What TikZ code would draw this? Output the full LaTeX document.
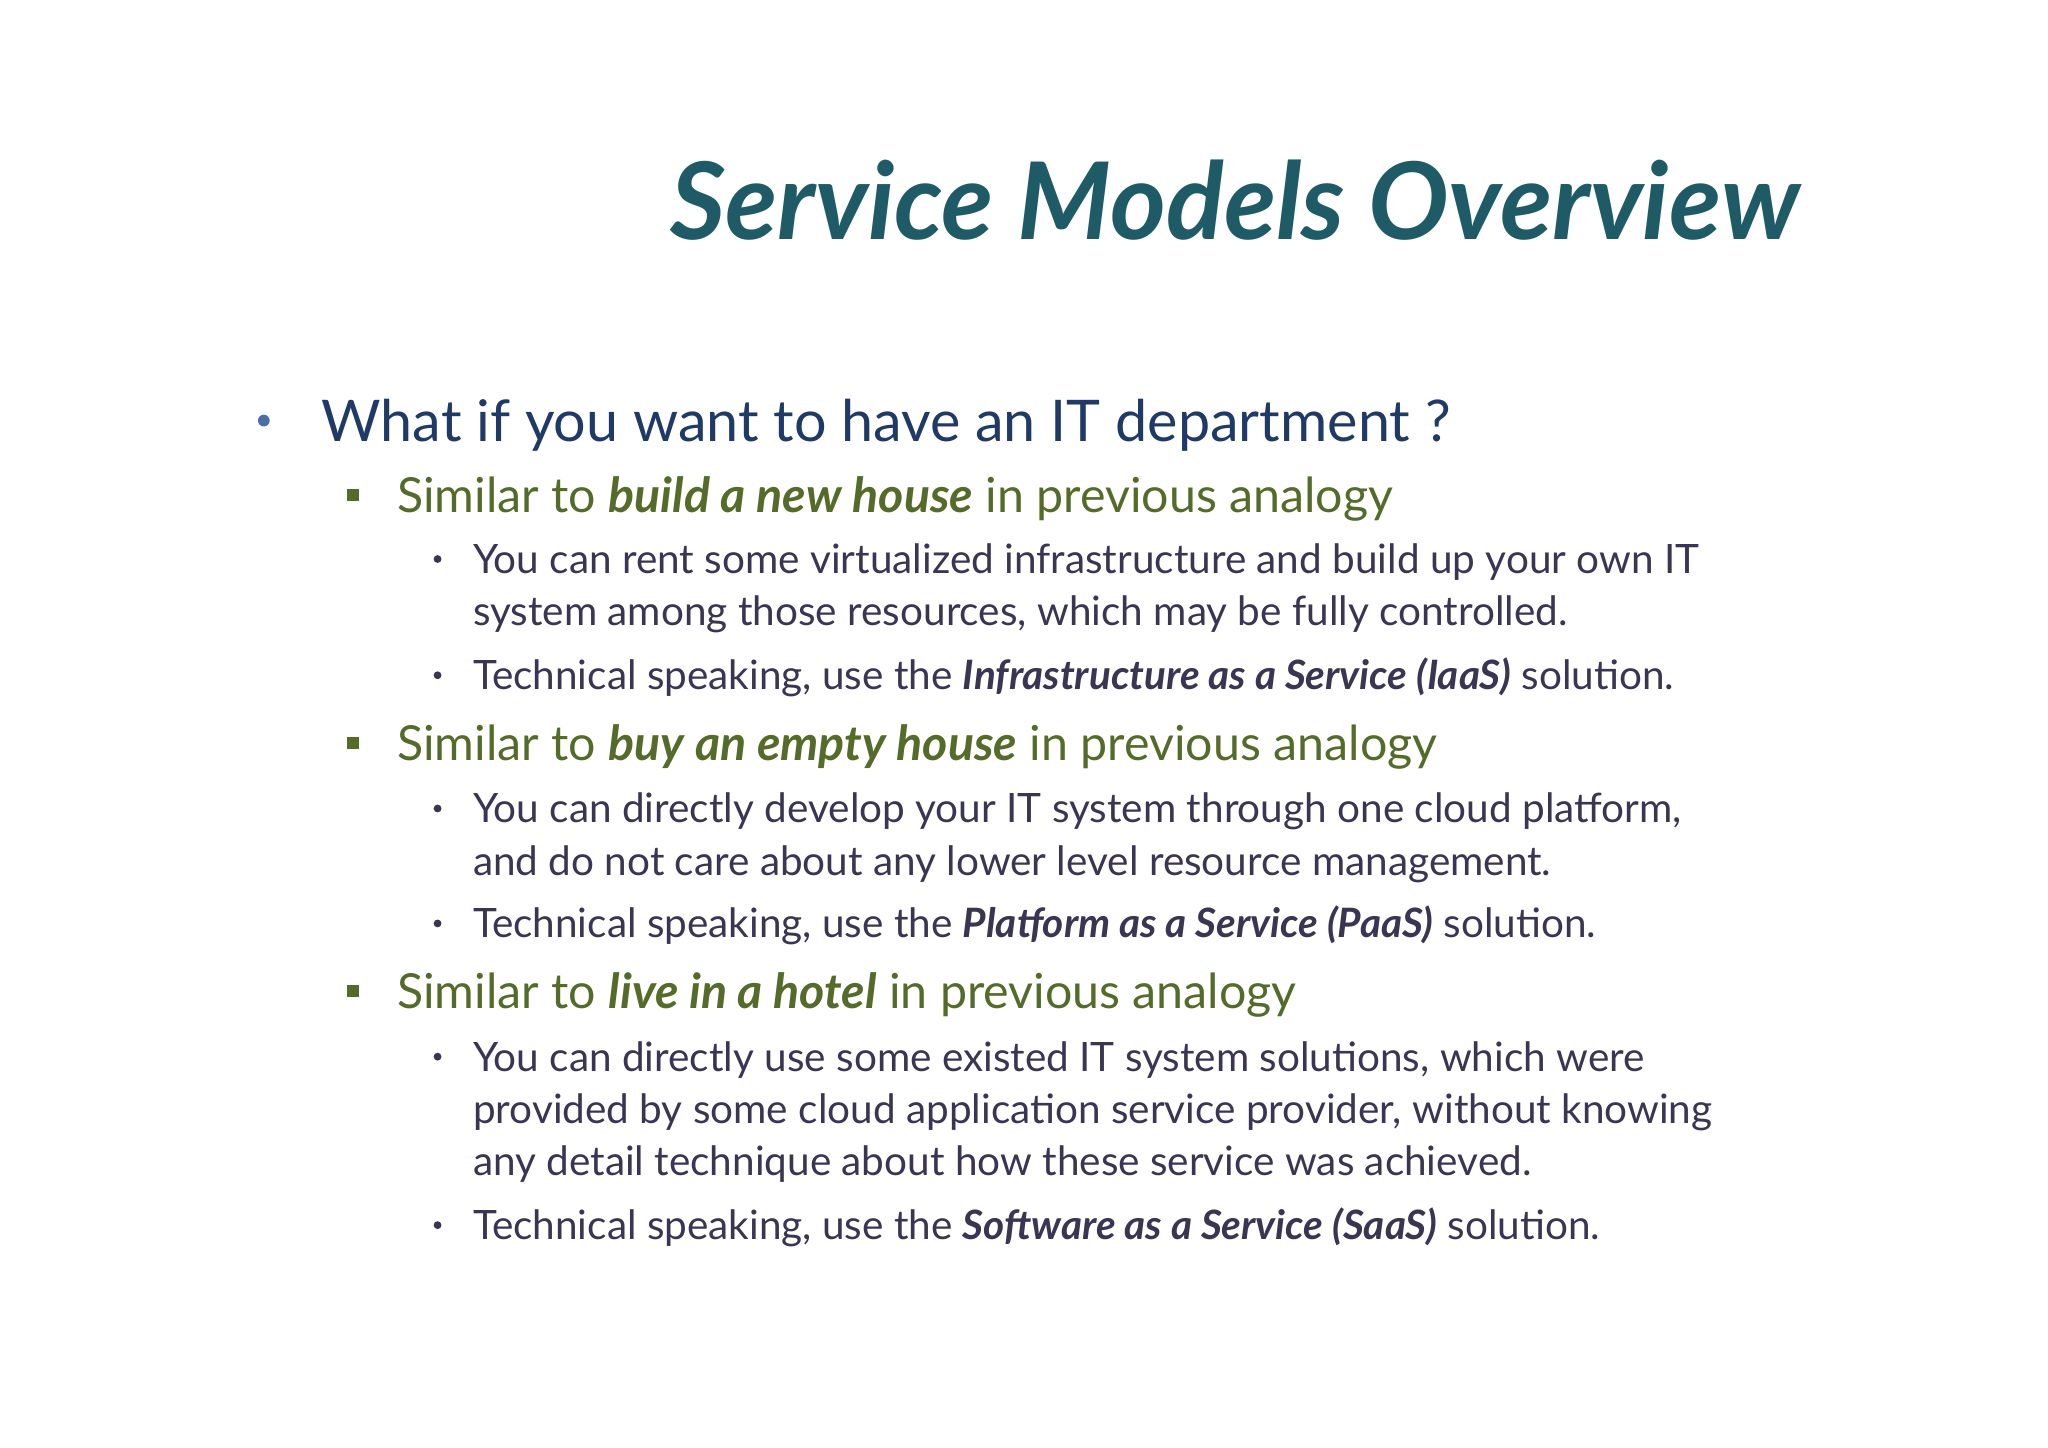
\documentclass[tikz,border=0pt]{standalone}
\usepackage{fontspec}
\setmainfont{Lato}
\definecolor{ttl}{HTML}{1F5B66}
\definecolor{lone}{HTML}{1F3A66}
\definecolor{ltwo}{HTML}{556B2A}
\definecolor{lthree}{HTML}{3A3552}
\definecolor{bul}{HTML}{4A6FA5}
\begin{document}
\begin{tikzpicture}[x=1pt,y=-1pt,
  t/.style={anchor=base west,inner sep=0pt},
  lonet/.style={t,font=\fontsize{44}{50}\selectfont,text=lone},
  ltwot/.style={t,font=\fontsize{37}{44}\selectfont,text=ltwo},
  lthreet/.style={t,font=\fontsize{31}{40}\selectfont,text=lthree},
  sq/.style={fill=ltwo,minimum size=9pt,inner sep=0pt},
  dot/.style={circle,fill=lthree,minimum size=6pt,inner sep=0pt}]
\useasboundingbox (0,0) rectangle (1568,1108);
\node[t,anchor=base east,font=\fontsize{82}{90}\selectfont\bfseries\itshape,text=ttl] (title) at (1378,183) {Service Models Overview};
\node[circle,fill=bul,minimum size=9pt,inner sep=0pt] (b1) at (202,322) {};
\node[lonet] (l1) at (246,338) {What if you want to have an IT department ?};
\def\bi#1{\textbf{\textit{#1}}}
\node[sq] (s1) at (270,379) {};
\node[ltwot] (a) at (304,392) {Similar to \bi{build a new house} in previous analogy};
\node[dot] (d1) at (335,428) {};
\node[lthreet] (a1) at (362,439) {You can rent some virtualized infrastructure and build up your own IT};
\node[lthreet] (a2) at (362,479) {system among those resources, which may be fully controlled.};
\node[dot] (d2) at (335,517) {};
\node[lthreet] (a3) at (362,528) {Technical speaking, use the \bi{Infrastructure as a Service (IaaS)} solution.};
\node[sq] (s2) at (270,569) {};
\node[ltwot] (b) at (304,582) {Similar to \bi{buy an empty house} in previous analogy};
\node[dot] (d3) at (335,619) {};
\node[lthreet] (b1t) at (362,630) {You can directly develop your IT system through one cloud platform,};
\node[lthreet] (b2t) at (362,670) {and do not care about any lower level resource management.};
\node[dot] (d4) at (335,707) {};
\node[lthreet] (b3t) at (362,718) {Technical speaking, use the \bi{Platform as a Service (PaaS)} solution.};
\node[sq] (s3) at (270,759) {};
\node[ltwot] (c) at (304,772) {Similar to \bi{live in a hotel} in previous analogy};
\node[dot] (d5) at (335,809) {};
\node[lthreet] (c1) at (362,820) {You can directly use some existed IT system solutions, which were};
\node[lthreet] (c2) at (362,860) {provided by some cloud application service provider, without knowing};
\node[lthreet] (c3) at (362,900) {any detail technique about how these service was achieved.};
\node[dot] (d6) at (335,938) {};
\node[lthreet] (c4) at (362,949) {Technical speaking, use the \bi{Software as a Service (SaaS)} solution.};
\end{tikzpicture}
\end{document}
